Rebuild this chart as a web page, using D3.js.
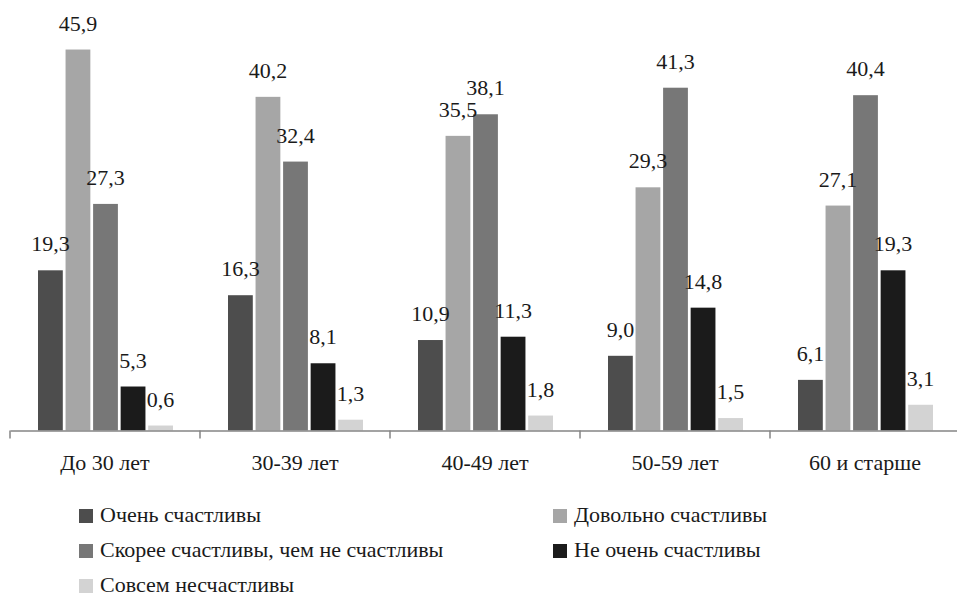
<!DOCTYPE html>
<html>
<head>
<meta charset="utf-8">
<script src="https://cdn.jsdelivr.net/npm/d3@7"></script>
<style>
  html, body { margin: 0; padding: 0; background: #fff; font-family: 'Liberation Serif', serif; }
  svg { display: block; }
  svg text { font-family: 'Liberation Serif', serif !important; }
</style>
</head>
<body>
<script>
const categories = ["До 30 лет", "30-39 лет", "40-49 лет", "50-59 лет", "60 и старше"];
const seriesNames = ["Очень счастливы", "Довольно счастливы", "Скорее счастливы, чем не счастливы", "Не очень счастливы", "Совсем несчастливы"];
const seriesColors = ["#4d4d4d", "#a6a6a6", "#777777", "#1b1b1b", "#d3d3d3"];
const veryHappy      = [19.3, 16.3, 10.9, 9.0, 6.1];
const fairlyHappy    = [45.9, 40.2, 35.5, 29.3, 27.1];
const ratherHappy    = [27.3, 32.4, 38.1, 41.3, 40.4];
const notVeryHappy   = [5.3, 8.1, 11.3, 14.8, 19.3];
const notHappyAtAll  = [0.6, 1.3, 1.8, 1.5, 3.1];
const seriesValues = [veryHappy, fairlyHappy, ratherHappy, notVeryHappy, notHappyAtAll];

const FONT = "Liberation Serif";
const FS = 22;
const TXT = "#1a1a1a";

const svg = d3.select("body").append("svg")
  .attr("width", 957).attr("height", 596)
  .attr("font-family", FONT);
svg.append("style").text("text { font-family: 'Liberation Serif', serif !important; }");

const baseY = 430.5;

const x0 = d3.scaleBand().domain(categories).range([10, 960]).padding(0);
const x1 = d3.scaleBand().domain(d3.range(seriesNames.length)).range([28, 163]).paddingInner(0.1);
const y = d3.scaleLinear().domain([0, 50]).range([baseY, baseY - 415]);

const fmt = v => v.toFixed(1).replace(".", ",");

const groups = svg.selectAll("g.grp").data(categories).join("g")
  .attr("class", "grp")
  .attr("transform", d => `translate(${x0(d)},0)`);

groups.each(function(cat, ci) {
  const g = d3.select(this);
  seriesValues.forEach((vals, si) => {
    const v = vals[ci];
    g.append("rect")
      .attr("x", x1(si))
      .attr("width", x1.bandwidth())
      .attr("y", y(v))
      .attr("height", baseY - y(v))
      .attr("fill", seriesColors[si]);
  });
});

groups.each(function(cat, ci) {
  const g = d3.select(this);
  seriesValues.forEach((vals, si) => {
    const v = vals[ci];
    g.append("text")
      .attr("x", x1(si) + x1.bandwidth() / 2)
      .attr("y", y(v) - 19)
      .attr("text-anchor", "middle")
      .attr("font-family", FONT)
      .attr("font-size", FS)
      .attr("fill", TXT)
      .text(fmt(v));
  });
});

// axis
const axis = svg.append("g").attr("transform", `translate(0,${baseY})`)
  .call(d3.axisBottom(x0).tickSize(0).tickPadding(24));
axis.attr("font-family", FONT).attr("font-size", FS);
axis.select(".domain").attr("stroke", "#858585").attr("stroke-width", 1.5);
axis.selectAll(".tick text")
  .attr("font-family", FONT)
  .attr("font-size", FS)
  .attr("fill", TXT);
// boundary ticks
svg.append("g").selectAll("line").data(categories).join("line")
  .attr("x1", d => x0(d)).attr("x2", d => x0(d))
  .attr("y1", baseY).attr("y2", baseY + 8)
  .attr("stroke", "#858585").attr("stroke-width", 1.5);

// legend
const legendPos = [
  {x: 79, y: 516}, {x: 553, y: 516},
  {x: 79, y: 551}, {x: 553, y: 551},
  {x: 79, y: 586}
];
const leg = svg.append("g").selectAll("g").data(seriesNames).join("g")
  .attr("transform", (d, i) => `translate(${legendPos[i].x},${legendPos[i].y})`);
leg.append("rect").attr("x", 0).attr("y", -7).attr("width", 14).attr("height", 14)
  .attr("fill", (d, i) => seriesColors[i]);
leg.append("text").attr("x", 21).attr("y", 6)
  .attr("font-family", FONT)
  .attr("font-size", FS)
  .attr("fill", TXT)
  .text(d => d);
</script>
</body>
</html>
